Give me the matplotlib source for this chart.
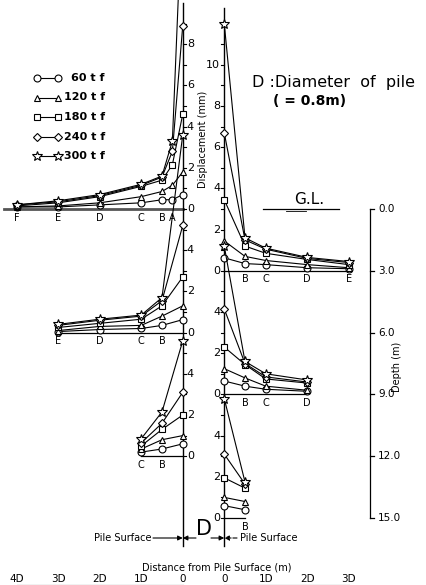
import matplotlib.pyplot as plt
from matplotlib.patches import FancyArrowPatch

plt.rcParams['font.family'] = 'DejaVu Sans'

# loads and markers
loads = ["60 t f", "120 t f", "180 t f", "240 t f", "300 t f"]
markers = ["o", "^", "s", "D", "*"]
msizes = [5, 5, 4.5, 4.2, 7.5]

# distance from pile surface (in D) for the measuring points
letters = {0.25: "A", 0.5: "B", 1: "C", 2: "D", 3: "E", 4: "F"}

# displacement (mm) at each depth, rows = loads
d_gl = [0, 0.25, 0.5, 1, 2, 3, 4]          # G.L. (left)
v_gl = [[0.7, 0.45, 0.45, 0.3, 0.2, 0.1, 0.1],
        [1.8, 1.15, 0.85, 0.6, 0.3, 0.15, 0.1],
        [4.6, 2.15, 1.4, 1.1, 0.6, 0.3, 0.15],
        [8.9, 2.8, 1.55, 1.15, 0.65, 0.35, 0.2],
        [15.5, 3.3, 1.6, 1.2, 0.7, 0.4, 0.2]]

d_3m = [0, 0.5, 1, 2, 3]                   # 3.0 m (right)
v_3m = [[0.63, 0.35, 0.3, 0.15, 0.1],
        [1.45, 0.7, 0.5, 0.3, 0.15],
        [3.45, 1.2, 0.85, 0.55, 0.3],
        [6.7, 1.5, 1.05, 0.6, 0.4],
        [12.0, 1.6, 1.1, 0.65, 0.45]]

d_6m = [0, 0.5, 1, 2, 3]                   # 6.0 m (left)
v_6m = [[0.63, 0.35, 0.2, 0.15, 0.05],
        [1.3, 0.8, 0.35, 0.3, 0.1],
        [2.7, 1.3, 0.65, 0.45, 0.25],
        [5.2, 1.55, 0.8, 0.6, 0.35],
        [9.6, 1.7, 0.85, 0.65, 0.4]]

d_9m = [0, 0.5, 1, 2]                      # 9.0 m (right)
v_9m = [[0.65, 0.4, 0.25, 0.15],
        [1.25, 0.8, 0.4, 0.2],
        [2.3, 1.45, 0.75, 0.55],
        [4.15, 1.5, 0.85, 0.6],
        [7.2, 1.6, 1.0, 0.7]]

d_12m = [0, 0.5, 1]                        # 12.0 m (left)
v_12m = [[0.6, 0.35, 0.2],
         [1.0, 0.8, 0.35],
         [2.0, 1.3, 0.5],
         [3.1, 1.6, 0.65],
         [5.6, 2.15, 0.85]]

d_15m = [0, 0.5]                           # 15.0 m (right)
v_15m = [[0.6, 0.4],
         [1.0, 0.8],
         [1.95, 1.45],
         [3.1, 1.65],
         [5.8, 1.75]]

# side, depth, distances, values, number of ticks
groups = [(-1, 0.0, d_gl, v_gl, 9),
          (1, 3.0, d_3m, v_3m, 11),
          (-1, 6.0, d_6m, v_6m, 5),
          (1, 9.0, d_9m, v_9m, 5),
          (-1, 12.0, d_12m, v_12m, 5),
          (1, 15.0, d_15m, v_15m, 5)]

depth_ticks = [0.0, 3.0, 6.0, 9.0, 12.0, 15.0]

fig = plt.figure(figsize=(4.26, 5.85), dpi=100)
ax = fig.add_axes([0, 0, 1, 1])
ax.set_xlim(-203.5 / 41.5, 222.5 / 41.5)
ax.set_ylim(376 / 20.6, -209 / 20.6)
ax.axis("off")


def P(xp, yp):
    # pixel position -> data position (for decorations)
    return (xp - 203.5) / 41.5, (yp - 209) / 20.6


# pile surfaces
for s, top in [(-1, 3), (1, 8)]:
    ax.plot([s * 0.5] * 2, [P(0, top)[1], P(0, 546)[1]], color="k", lw=1.0)

for side, depth, dist, vals, nt in groups:
    x0 = side * 0.5
    xs = [side * (0.5 + d) for d in dist]
    # base line
    if depth == 0:
        ax.plot([x0, xs[-1] + side * 0.3], [depth, depth], color="#555555", lw=2.0, zorder=1)
    else:
        ax.plot([x0, xs[-1]], [depth, depth], color="k", lw=0.9, zorder=1)
    # ticks on pile line
    for t in range(nt + 1):
        ax.plot([x0, x0 - side * 0.08], [depth - t, depth - t], color="k", lw=0.8)
        if t % 2 == 0:
            if side < 0:
                ax.text(-0.4, depth - t, str(t), ha="left", va="center", fontsize=8)
            else:
                ax.text(0.4, depth - t, str(t), ha="right", va="center", fontsize=8)
    # point letters
    for d in dist[1:]:
        ax.text(side * (0.5 + d), depth + 0.42, letters[d], ha="center", va="center", fontsize=7)
    # data
    for i in range(5):
        ys = [depth - v for v in vals[i]]
        ax.plot(xs, ys, color="k", lw=0.8, marker=markers[i], ms=msizes[i],
                mfc="white", mec="k", mew=0.8, zorder=3)

# legend
for i in range(5):
    yp = 78 + 19.5 * i
    xa, ya = P(37, yp)
    xb, _ = P(58, yp)
    ax.plot([xa, xb], [ya, ya], color="k", lw=0.8, marker=markers[i], ms=msizes[i],
            mfc="white", mec="k", mew=0.8)
    ax.text(P(105, yp)[0], ya, loads[i], ha="right", va="center", fontsize=8, fontweight="bold")

ax.text(0, P(0, 139)[1], "Displacement (mm)", rotation=90, ha="center", va="center", fontsize=7)

ax.text(*P(334, 83), "D :Diameter  of  pile", ha="center", va="center", fontsize=11.5)
ax.text(*P(310, 101), "( = 0.8m)", ha="center", va="center", fontsize=10, fontweight="bold")

# G.L.
ax.text(*P(309, 199), "G.L.", ha="center", va="center", fontsize=11)
ax.plot([P(263, 0)[0], P(339, 0)[0]], [0, 0], color="k", lw=0.9)
ax.plot([P(286, 0)[0], P(306, 0)[0]], [P(0, 211)[1]] * 2, color="k", lw=0.6)

# depth axis
xd = P(370, 0)[0]
ax.plot([xd, xd], [depth_ticks[0], depth_ticks[-1]], color="k", lw=0.9)
for d in depth_ticks:
    ax.plot([xd, xd + 0.1], [d, d], color="k", lw=0.9)
    ax.text(P(378, 0)[0], d, f"{d:.1f}", ha="left", va="center", fontsize=7.5)
ax.text(*P(397, 367), "Depth (m)", rotation=90, ha="center", va="center", fontsize=7)

# pile surface / D annotations
yb = P(0, 538)[1]


def arrow(x_from, x_to, ls="-"):
    ax.add_patch(FancyArrowPatch((x_from, yb), (x_to, yb), arrowstyle="-|>",
                                 mutation_scale=7, color="k", lw=0.8, ls=ls,
                                 shrinkA=0, shrinkB=0))


arrow(P(153, 0)[0], -0.5)
arrow(P(196, 0)[0], -0.5)
arrow(P(211, 0)[0], 0.5)
arrow(P(237, 0)[0], 0.5, "--")
ax.text(P(151, 0)[0], yb, "Pile Surface", ha="right", va="center", fontsize=7)
ax.text(P(240, 0)[0], yb, "Pile Surface", ha="left", va="center", fontsize=7)
ax.text(0, P(0, 529)[1], "D", ha="center", va="center", fontsize=15)

ax.text(*P(217, 568), "Distance from Pile Surface (m)", ha="center", va="center", fontsize=7)

# bottom scale
ys = P(0, 579)[1]
for k, lab in enumerate(["4D", "3D", "2D", "1D", "0"]):
    ax.text(-0.5 - (4 - k), ys, lab, ha="center", va="center", fontsize=7.5)
for k, lab in enumerate(["0", "1D", "2D", "3D"]):
    ax.text(0.5 + k, ys, lab, ha="center", va="center", fontsize=7.5)
yl = P(0, 584.5)[1]
ax.plot([-4.5, -0.5], [yl, yl], color="k", lw=0.8)
ax.plot([0.5, 3.5], [yl, yl], color="k", lw=0.8)

fig.savefig("out.png", dpi=100)
